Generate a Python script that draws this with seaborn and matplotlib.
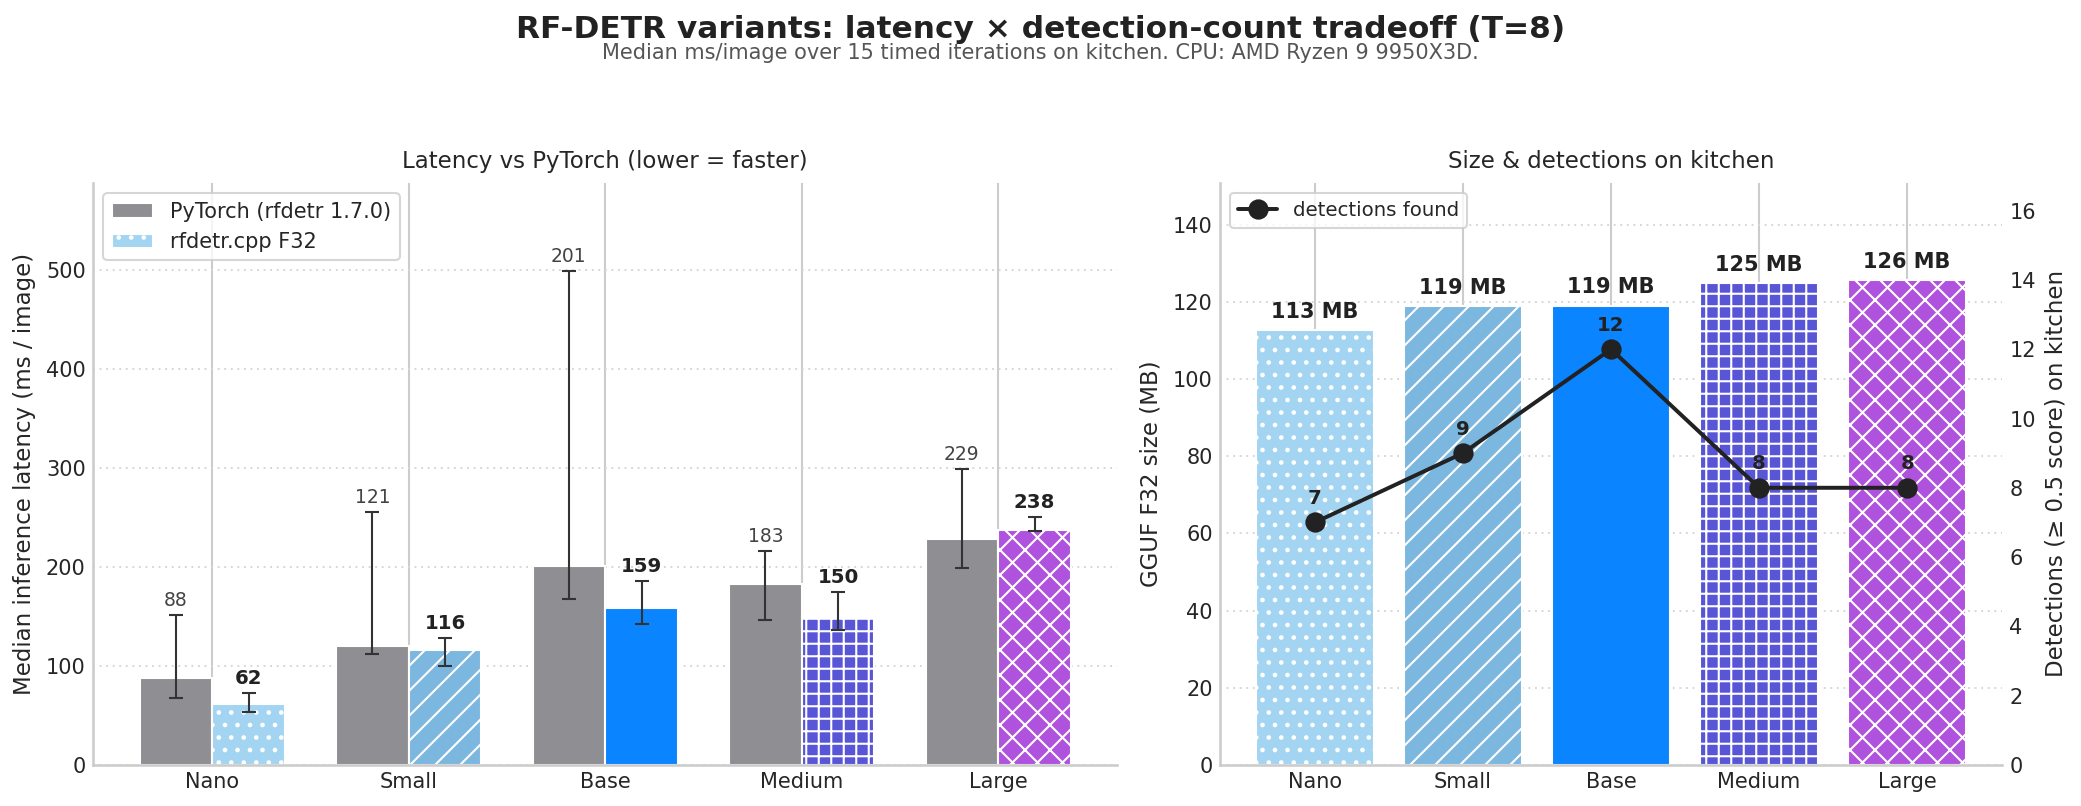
import numpy as np
import pandas as pd
import matplotlib
matplotlib.use("Agg")
import matplotlib.pyplot as plt
import seaborn as sns

# ---------------- data ----------------
variants = ["Nano", "Small", "Base", "Medium", "Large"]
backends = ["PyTorch (rfdetr 1.7.0)", "rfdetr.cpp F32"]

torch_ms = [87.8, 120.6, 200.6, 182.6, 228.6]
torch_lo = [67.5, 112.0, 167.6, 146.0, 199.0]
torch_hi = [151.5, 255.5, 499.3, 216.2, 298.8]

cpp_ms = [61.6, 115.6, 158.8, 149.6, 237.6]
cpp_lo = [53.0, 99.8, 142.3, 135.9, 236.1]
cpp_hi = [72.5, 127.8, 185.5, 174.4, 250.3]

size_mb = [112.6, 118.9, 119.0, 124.9, 125.6]
detections = [7, 9, 12, 8, 8]

variant_colors = ["#A3D5F2", "#7BB7DF", "#0A84FF", "#5856D6", "#AF52DE"]
variant_hatches = ["..", "//", "", "++", "xx"]
torch_color = "#8E8E93"

# ---------------- style ----------------
sns.set_theme(style="whitegrid")
plt.rcParams["font.family"] = ["DejaVu Sans"]
plt.rcParams["hatch.linewidth"] = 1.0

fig = plt.figure(figsize=(2081 / 150, 806 / 150), dpi=150)
ax1 = fig.add_axes([0.0447, 0.051, 0.4923, 0.722])
ax2 = fig.add_axes([0.5863, 0.051, 0.3757, 0.722])

fig.suptitle("RF-DETR variants: latency × detection-count tradeoff (T=8)",
             fontsize=15, fontweight="bold", color="#222222", y=0.981)
fig.text(0.5, 0.934, "Median ms/image over 15 timed iterations on kitchen. CPU: AMD Ryzen 9 9950X3D.",
         ha="center", va="center", fontsize=10, color="#555555")

# ---------------- left: latency ----------------
lat_df = pd.DataFrame({
    "variant": variants * 2,
    "backend": [backends[0]] * 5 + [backends[1]] * 5,
    "ms": torch_ms + cpp_ms,
})
sns.barplot(data=lat_df, x="variant", y="ms", hue="backend", order=variants,
            hue_order=backends, palette=[torch_color, variant_colors[0]],
            width=0.74, gap=0, errorbar=None, legend=False, ax=ax1,
            saturation=1, edgecolor="white", linewidth=1)

torch_bars = ax1.containers[0]
cpp_bars = ax1.containers[1]
for i, p in enumerate(cpp_bars.patches):
    p.set_facecolor(variant_colors[i])
    p.set_hatch(variant_hatches[i])
    p.set_edgecolor("white")

def centers(bars):
    return [p.get_x() + p.get_width() / 2 for p in bars.patches]

tx = centers(torch_bars)
cx = centers(cpp_bars)
ax1.errorbar(tx, torch_ms,
             yerr=[np.array(torch_ms) - np.array(torch_lo), np.array(torch_hi) - np.array(torch_ms)],
             fmt="none", ecolor="#333333", elinewidth=1, capsize=3.5, capthick=1, zorder=3)
ax1.errorbar(cx, cpp_ms,
             yerr=[np.array(cpp_ms) - np.array(cpp_lo), np.array(cpp_hi) - np.array(cpp_ms)],
             fmt="none", ecolor="#333333", elinewidth=1, capsize=3.5, capthick=1, zorder=3)
for x, v, h in zip(tx, torch_ms, torch_hi):
    ax1.annotate(f"{v:.0f}", (x, h), xytext=(0, 2.5), textcoords="offset points",
                 ha="center", va="bottom", fontsize=9, color="#444444")
for x, v, h in zip(cx, cpp_ms, cpp_hi):
    ax1.annotate(f"{v:.0f}", (x, h), xytext=(0, 2.5), textcoords="offset points",
                 ha="center", va="bottom", fontsize=9.5, fontweight="bold", color="#222222")

ax1.set_ylim(0, 588)
ax1.set_xlabel("")
ax1.set_ylabel("Median inference latency (ms / image)", fontsize=11, labelpad=5)
ax1.set_title("Latency vs PyTorch (lower = faster)", fontsize=11, pad=7)
ax1.xaxis.grid(True, color="#cccccc", linestyle="-", linewidth=1)
ax1.yaxis.grid(True, color="#d5d5d5", linestyle=(0, (1, 2.5)), linewidth=0.9)
ax1.tick_params(axis="both", labelsize=10, length=0, pad=3.5)
for s in ["top", "right"]:
    ax1.spines[s].set_visible(False)
ax1.legend(handles=[torch_bars.patches[0], cpp_bars.patches[0]], labels=backends,
           loc="upper left", fontsize=10, frameon=True, edgecolor="#cccccc")

# ---------------- right: size & detections ----------------
size_df = pd.DataFrame({"variant": variants, "size": size_mb})
sns.barplot(data=size_df, x="variant", y="size", hue="variant", order=variants,
            palette=variant_colors, width=0.8, legend=False, ax=ax2,
            saturation=1, edgecolor="white", linewidth=1)
for i, p in enumerate(ax2.patches[:5]):
    p.set_hatch(variant_hatches[i])
    p.set_edgecolor("white")
for p, v in zip(ax2.patches[:5], size_mb):
    ax2.annotate(f"{v:.0f} MB", (p.get_x() + p.get_width() / 2, p.get_height()),
                 xytext=(0, 4), textcoords="offset points", ha="center", va="bottom",
                 fontsize=10, fontweight="bold", color="#222222")
ax2.set_ylim(0, 150.8)
ax2.set_xlabel("")
ax2.set_ylabel("GGUF F32 size (MB)", fontsize=11, labelpad=5)
ax2.set_title("Size & detections on kitchen", fontsize=11, pad=7)
ax2.xaxis.grid(True, color="#cccccc", linestyle="-", linewidth=1)
ax2.yaxis.grid(True, color="#d5d5d5", linestyle=(0, (1, 2.5)), linewidth=0.9)
ax2.tick_params(axis="both", labelsize=10, length=0, pad=3.5)
for s in ["top", "right"]:
    ax2.spines[s].set_visible(False)

ax3 = ax2.twinx()
sns.lineplot(x=np.arange(len(variants)), y=detections, ax=ax3, color="#222222",
             marker="o", markersize=9, markeredgecolor="#222222", linewidth=1.9,
             label="detections found")
for i, d in enumerate(detections):
    ax3.annotate(f"{d}", (i, d), xytext=(0, 7), textcoords="offset points",
                 ha="center", va="bottom", fontsize=9.5, fontweight="bold", color="#222222")
ax3.set_ylim(0, 16.8)
ax3.set_yticks(range(0, 17, 2))
ax3.grid(False)
ax3.set_ylabel("Detections (≥ 0.5 score) on kitchen", fontsize=11, labelpad=4)
ax3.tick_params(axis="y", labelsize=10, length=0, pad=3.5)
for s in ax3.spines.values():
    s.set_visible(False)
ax3.legend(loc="upper left", fontsize=9.5, frameon=True, edgecolor="#cccccc")
ax2.set_xlim(-0.64, 4.64)

fig.savefig("out.png", dpi=150)
